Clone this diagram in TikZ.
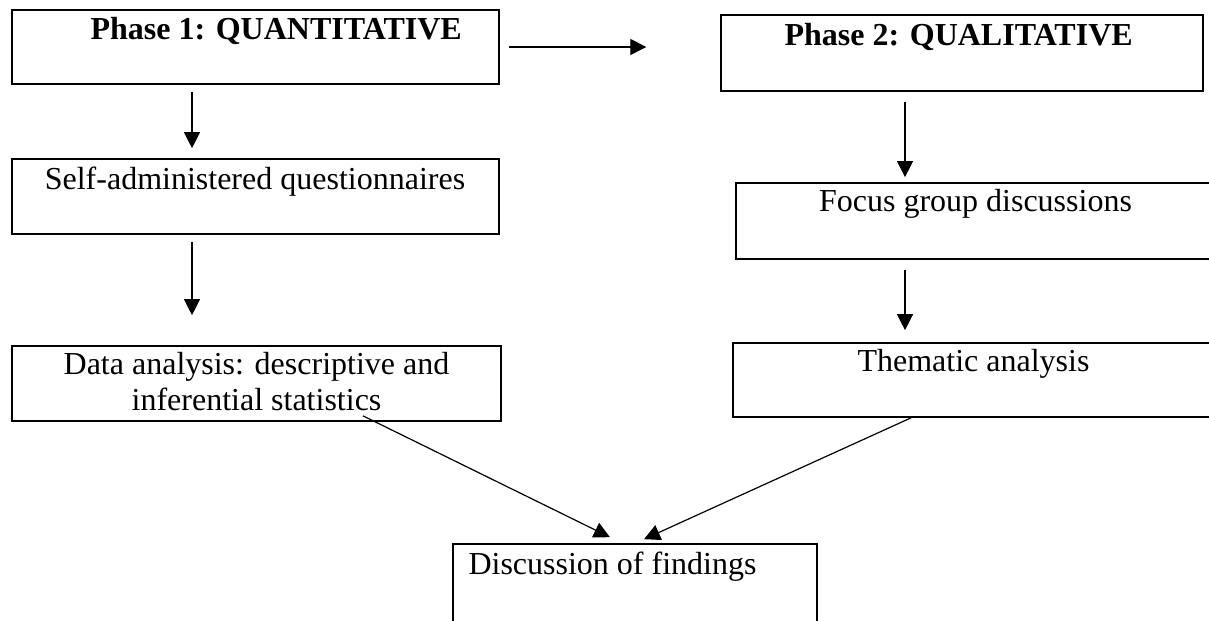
\documentclass[tikz,border=0pt]{standalone}
\usepackage{fontspec}
\setmainfont{Liberation Serif}
\usetikzlibrary{arrows.meta,fit}
\begin{document}
\begin{tikzpicture}[x={(0.375pt,0)},y={(0,-0.375pt)},
  boxst/.style={draw=black,line width=0.6pt,inner sep=0pt,rectangle},
  arr/.style={draw=black,line width=0.45pt,-{Triangle[length=6pt,width=6pt]}},
  txt/.style={inner sep=0pt,font=\fontsize{12pt}{13.5pt}\selectfont},
  btxt/.style={txt,font=\fontsize{12pt}{13.5pt}\selectfont\bfseries}]
\useasboundingbox (0,0) rectangle (1209,621);
\fill[white] (0,0) rectangle (1209,621);
% corners
\coordinate (p1a) at (12,10);   \coordinate (p1b) at (499,84);
\coordinate (p2a) at (721,15);  \coordinate (p2b) at (1203,91);
\coordinate (q1a) at (12,159);  \coordinate (q1b) at (499,234);
\coordinate (q2a) at (736,183); \coordinate (q2b) at (1215,259);
\coordinate (r1a) at (12,346);  \coordinate (r1b) at (501,421);
\coordinate (r2a) at (733,343); \coordinate (r2b) at (1214,417);
\coordinate (sa) at (453,544);  \coordinate (sb) at (817,640);
% boxes
\node[boxst,fit=(p1a)(p1b)] (phase1) {};
\node[boxst,fit=(p2a)(p2b)] (phase2) {};
\node[boxst,fit=(q1a)(q1b)] (quest) {};
\node[boxst,fit=(q2a)(q2b)] (focus) {};
\node[boxst,fit=(r1a)(r1b)] (data) {};
\node[boxst,fit=(r2a)(r2b)] (thema) {};
\node[boxst,fit=(sa)(sb)] (disc) {};
% texts
\node[btxt,anchor=base west] (t1) at (90,40) {Phase 1: QUANTITATIVE};
\node[btxt,anchor=base west] (t2) at (784,46) {Phase 2: QUALITATIVE};
\node[txt,anchor=base] (t3) at (255,190) {Self-administered questionnaires};
\node[txt,anchor=base] (t4a) at (256.5,375) {Data analysis: descriptive and};
\node[txt,anchor=base] (t4b) at (256.5,411) {inferential statistics};
\node[txt,anchor=base] (t5) at (975.5,212) {Focus group discussions};
\node[txt,anchor=base] (t6) at (973.5,372) {Thematic analysis};
\node[txt,anchor=base west] (t7) at (468,575) {Discussion of findings};
% arrow columns
\coordinate (cl) at (192,0);
\coordinate (cr) at (905,0);
% connectors
\draw[arr,shorten <=3.4pt,shorten >=27.7pt] (phase1.east) -- (phase2.west |- phase1.east);
\draw[arr,shorten <=2.6pt,shorten >=3.75pt] (phase1.south -| cl) -- (quest.north -| cl);
\draw[arr,shorten <=2.6pt,shorten >=11.25pt] (quest.south -| cl) -- (data.north -| cl);
\draw[arr,shorten <=3.75pt,shorten >=1.9pt] (phase2.south -| cr) -- (focus.north -| cr);
\draw[arr,shorten <=3.75pt,shorten >=4.5pt] (focus.south -| cr) -- (thema.north -| cr);
\draw[arr] ([xshift=39.9pt,yshift=2.25pt]data.south) -- ([xshift=-9.4pt,yshift=2.25pt]disc.north);
\draw[arr] ([xshift=-23.4pt]thema.south) -- ([xshift=3.4pt,yshift=1.5pt]disc.north);
\end{tikzpicture}
\end{document}
